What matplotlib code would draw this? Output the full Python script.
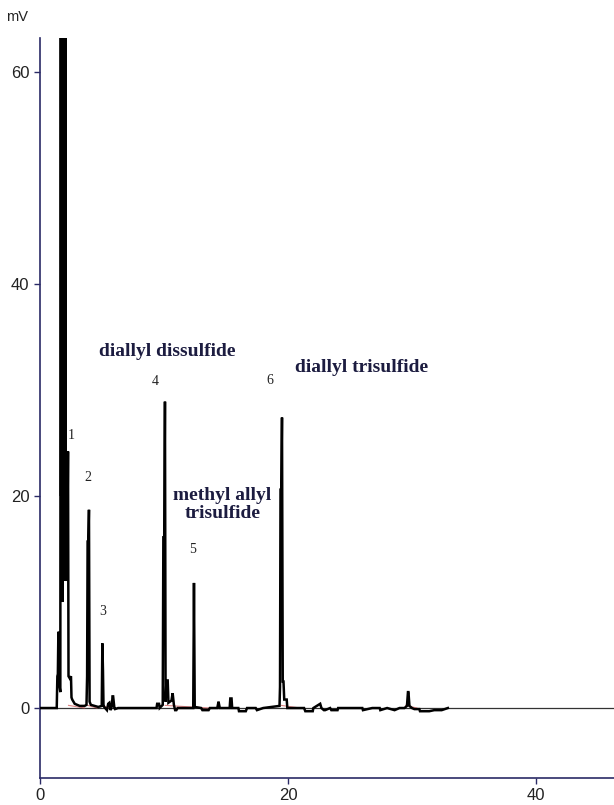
import matplotlib
matplotlib.use("Agg")
import matplotlib.pyplot as plt

# ---- data ----
time_min = [0.0, 1.35, 1.40, 1.44, 1.48, 1.52, 1.58, 1.64,
            1.68, 1.71, 1.74, 1.77, 1.80, 1.83, 1.86, 1.89, 1.92, 1.95,
            1.98, 2.01, 2.04, 2.07,
            2.10, 2.18, 2.26, 2.30, 2.40, 2.50, 2.54, 2.60, 2.80, 3.20,
            3.60, 3.75, 3.80, 3.84, 3.90, 3.95, 4.00, 4.10, 4.40, 4.70,
            4.98, 5.03, 5.08, 5.12, 5.18, 5.40, 5.50, 5.60, 5.70, 5.80,
            5.85, 5.90, 6.00, 6.05, 6.30, 9.40, 9.45, 9.60, 9.65,
            9.90, 9.95, 10.02, 10.08, 10.13, 10.20, 10.30, 10.36, 10.60,
            10.70, 10.80, 10.90, 11.00, 11.10, 11.80, 12.36, 12.42, 12.48,
            13.00, 13.10, 13.60, 13.70, 14.30, 14.40, 14.50, 15.30, 15.35,
            15.45, 15.50, 16.00, 16.05, 16.60, 16.70, 17.40, 17.50, 18.00,
            19.32, 19.36, 19.40, 19.46, 19.52, 19.58, 19.64, 19.70, 19.90,
            19.95, 20.50, 21.30, 21.40, 22.00, 22.05, 22.60, 22.70, 22.90,
            23.00, 23.40, 23.50, 24.00, 24.05, 25.50, 26.00, 26.05, 26.80,
            27.40, 27.45, 28.00, 28.60, 29.00, 29.40, 29.60, 29.68, 29.72,
            29.80, 30.00, 30.20, 30.60, 30.65, 31.40, 31.80, 32.40, 32.90]
signal_mV = [0.0, 0.0, 3.0, 3.2, 7.0, 7.2, 2.0, 1.5,
             90.0, 20.0, 90.0, 15.0, 90.0, 10.0, 90.0, 12.0, 90.0, 12.0,
             90.0, 14.0, 90.0, 12.4,
             12.4, 12.0, 24.2, 3.0, 2.8, 3.0, 1.0, 0.8, 0.4, 0.2,
             0.2, 0.3, 3.0, 15.7, 15.7, 18.7, 0.6, 0.3, 0.2, 0.1,
             0.2, 6.1, 3.5, 0.3, 0.1, -0.2, 0.4, 0.5, -0.2, 0.2,
             1.1, 1.1, 0.0, -0.1, 0.0, 0.0, 0.4, 0.4, 0.0,
             0.3, 16.1, 16.1, 28.9, 0.6, 2.6, 2.6, 0.5, 0.7,
             1.4, 0.3, -0.2, -0.2, 0.0, 0.0, 0.0, 11.8, 0.1,
             0.0, -0.2, -0.2, 0.0, 0.0, 0.6, 0.0, 0.0, 0.9,
             0.9, 0.0, 0.0, -0.3, -0.3, 0.0, 0.0, -0.2, 0.0,
             0.2, 2.0, 20.6, 20.6, 27.4, 2.5, 2.5, 0.8, 0.8,
             0.0, 0.0, 0.0, -0.3, -0.3, 0.0, 0.4, 0.0, -0.2,
             -0.2, 0.0, -0.2, -0.2, 0.0, 0.0, 0.0, -0.2, 0.0,
             0.0, -0.2, 0.0, -0.2, 0.0, 0.0, 0.2, 1.5, 1.5,
             0.2, 0.0, -0.1, -0.1, -0.3, -0.3, -0.2, -0.2, 0.0]

# integration baselines (red)
base_start = [2.3, 3.85, 5.0, 10.1, 19.45, 29.5]
base_end = [3.6, 4.6, 5.6, 13.6, 21.0, 30.4]

peak_labels = ["1", "2", "3", "4", "5", "6"]
peak_label_t = [2.5, 3.87, 5.08, 9.27, 12.34, 18.5]
peak_label_y = [25.7, 21.7, 9.1, 30.8, 15.0, 30.9]

names = ["diallyl dissulfide", "methyl allyl\ntrisulfide", "diallyl trisulfide"]
name_t = [10.3, 14.7, 25.9]
name_y = [33.6, 19.2, 32.1]

x_ticks = [0, 20, 40]
y_ticks = [0, 20, 40, 60]

# ---- figure ----
W, H = 614, 805
fig = plt.figure(figsize=(W / 100, H / 100), dpi=100)
ax = fig.add_axes([40 / W, (H - 778) / H, (W - 40) / W, (778 - 38) / H])

ax.axhline(0, color="#333333", lw=0.9, zorder=1)
for s, e in zip(base_start, base_end):
    ax.plot([s, e], [0.25, 0.0], color="#d05050", lw=0.8, alpha=0.7, zorder=2)
ax.plot(time_min, signal_mV, color="black", lw=1.8, zorder=3,
        solid_joinstyle="miter")

ax.set_xlim(0, 46.3)
ax.set_ylim(-6.6, 63.2)
ax.set_xticks(x_ticks)
ax.set_yticks(y_ticks)

spine_col = "#2a2a66"
for side in ["top", "right"]:
    ax.spines[side].set_visible(False)
for side in ["left", "bottom"]:
    ax.spines[side].set_color(spine_col)
    ax.spines[side].set_linewidth(1.2)
ax.tick_params(axis="both", colors=spine_col, labelcolor="#222222",
               direction="out", length=4, width=1,
               labelsize=12, labelfontfamily="Liberation Sans")
ax.tick_params(axis="x", pad=3)

fig.text(17 / W, 1 - 17 / H, "mV", fontsize=10.5, family="Liberation Sans",
         color="#222222", ha="center", va="center")

for lab, t, y in zip(peak_labels, peak_label_t, peak_label_y):
    ax.text(t, y, lab, fontsize=10, family="Liberation Serif",
            color="#222222", ha="center", va="center")
for lab, t, y in zip(names, name_t, name_y):
    ax.text(t, y, lab, fontsize=14, family="Liberation Serif",
            fontweight="bold", color="#1c1c40", ha="center", va="center",
            linespacing=1.1)

fig.savefig("out.png", dpi=100)
